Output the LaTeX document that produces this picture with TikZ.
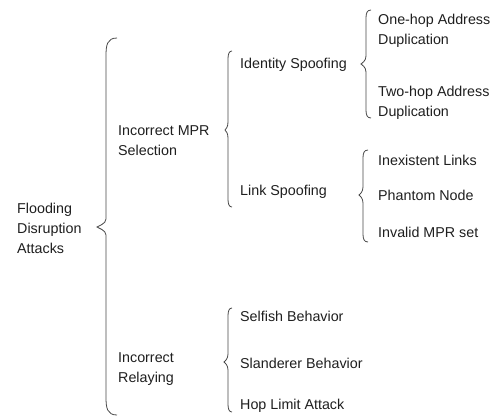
\documentclass[tikz,border=0pt]{standalone}
\usepackage{fontspec}
\setmainfont{Liberation Sans}
\newcommand\mybrace[7]{% #1 end x, #2 spine x, #3 tip x, #4 top y, #5 tip y, #6 bottom y, #7 curl
  \draw[brace] (#1,#4) .. controls (#2+1,#4) and (#2,#4+#7*0.4) .. (#2,#4+#7)
    -- (#2,#5-8) .. controls (#2,#5-3) and (#3+1,#5-1) .. (#3,#5)
    .. controls (#3+1,#5+1) and (#2,#5+3) .. (#2,#5+8)
    -- (#2,#6-#7) .. controls (#2,#6-#7*0.4) and (#2+1,#6) .. (#1,#6);}
\begin{document}
\begin{tikzpicture}[x=1pt,y=-1pt,
  lbl/.style={anchor=base west, inner sep=0pt, font=\fontsize{14.3}{20}\selectfont, text=black!88, align=left},
  brace/.style={draw=black!72, line width=0.8pt}]
\useasboundingbox (0,0) rectangle (503,416);
\fill[white] (0,0) rectangle (503,416);
% labels (base anchor = baseline of last line)
\node[lbl] (fda) at (17,253) {Flooding\\Disruption\\Attacks};
\node[lbl] (mpr) at (118,155) {Incorrect MPR\\Selection};
\node[lbl] (rel) at (118,382) {Incorrect\\Relaying};
\node[lbl] (ids) at (240,68) {Identity Spoofing};
\node[lbl] (lks) at (240,195) {Link Spoofing};
\node[lbl] (one) at (378,44) {One-hop Address\\Duplication};
\node[lbl] (two) at (378,116) {Two-hop Address\\Duplication};
\node[lbl] (inx) at (378,165) {Inexistent Links};
\node[lbl] (pha) at (378,200) {Phantom Node};
\node[lbl] (inv) at (378,237) {Invalid MPR set};
\node[lbl] (sel) at (240,321) {Selfish Behavior};
\node[lbl] (sla) at (240,368) {Slanderer Behavior};
\node[lbl] (hop) at (240,409) {Hop Limit Attack};
% braces
\mybrace{117}{106}{97}{38}{227}{415}{18}
\mybrace{232}{228}{225}{51}{130}{207}{8}
\mybrace{371}{366}{361}{10}{64}{118}{8}
\mybrace{368}{363}{359}{150}{195}{242}{8}
\mybrace{232}{228}{224}{308}{362}{412}{8}
\end{tikzpicture}
\end{document}
